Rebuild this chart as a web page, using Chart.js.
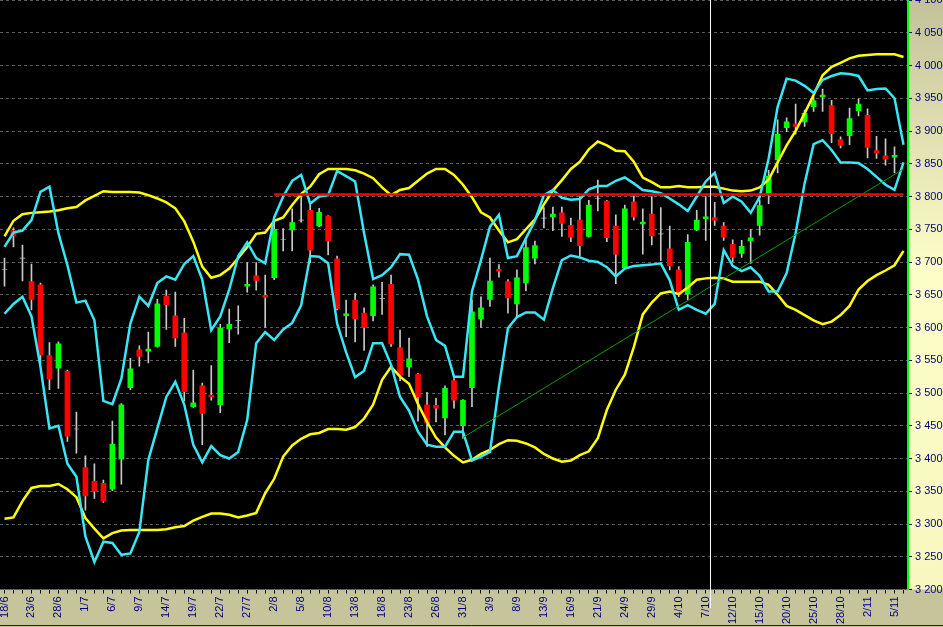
<!DOCTYPE html>
<html><head><meta charset="utf-8">
<script src="https://cdn.jsdelivr.net/npm/chart.js@4.4.1/dist/chart.umd.min.js"></script>
<style>html,body{margin:0;padding:0;background:#000;overflow:hidden}canvas{display:block}</style>
</head><body>
<canvas id="c" width="943" height="627"></canvas>
<script>
// Date labels shown under every third bar (bar 0, 3, 6, ...)
const dateLabels = ['18/6','23/6','28/6','1/7','6/7','9/7','14/7','19/7','22/7','27/7','2/8','5/8','10/8','13/8','18/8','23/8','26/8','31/8','3/9','8/9','13/9','16/9','21/9','24/9','29/9','4/10','7/10','12/10','15/10','20/10','25/10','28/10','2/11','5/11'];
const barCount = 101; // 100 candles + one band-only slot

const open = [3689,3748,3706,3670,3665,3557,3538,3533,3445,3386,
3365,3362,3353,3399,3508,3566,3564,3571,3648,3618,
3592,3479,3511,3497,3482,3598,3611,3663,3679,3649,
3676,3734,3749,3764,3779,3755,3770,3705,3618,3642,
3622,3618,3644,3666,3569,3540,3529,3482,3481,3462,
3519,3450,3508,3613,3643,3689,3670,3636,3668,3706,
3767,3769,3775,3756,3764,3739,3797,3793,3755,3691,
3792,3758,3773,3743,3720,3688,3651,3749,3766,3768,
3755,3727,3713,3732,3756,3804,3856,3905,3911,3914,
3937,3952,3939,3887,3893,3931,3924,3870,3862,3860];
const high = [3706,3752,3726,3697,3668,3577,3578,3535,3471,3404,
3392,3367,3457,3484,3553,3572,3593,3643,3657,3654,
3614,3535,3515,3542,3605,3628,3633,3699,3699,3680,
3765,3751,3781,3801,3787,3782,3771,3709,3642,3652,
3630,3665,3669,3680,3596,3584,3530,3501,3492,3511,
3522,3490,3642,3647,3706,3696,3673,3688,3734,3732,
3783,3784,3784,3767,3800,3794,3825,3794,3772,3787,
3801,3781,3800,3783,3755,3693,3742,3779,3800,3791,
3760,3734,3733,3750,3795,3840,3917,3920,3941,3932,
3952,3964,3947,3891,3935,3949,3934,3892,3888,3876];
const low = [3663,3723,3671,3627,3545,3505,3507,3426,3408,3321,
3339,3333,3351,3361,3505,3541,3546,3570,3597,3571,
3488,3478,3421,3489,3470,3577,3590,3654,3657,3600,
3673,3717,3717,3761,3699,3754,3711,3627,3586,3578,
3565,3610,3620,3571,3519,3525,3457,3418,3456,3436,
3477,3431,3479,3600,3632,3677,3622,3618,3656,3697,
3752,3748,3739,3731,3709,3738,3778,3731,3667,3690,
3764,3712,3726,3702,3688,3647,3642,3748,3733,3756,
3733,3700,3707,3698,3741,3789,3836,3899,3895,3907,
3930,3930,3882,3874,3879,3923,3859,3858,3848,3836];
const close = [3689,3740,3706,3643,3558,3521,3575,3434,3445,3343,
3350,3335,3422,3482,3537,3556,3567,3636,3635,3584,
3502,3485,3469,3494,3599,3605,3611,3666,3672,3646,
3750,3734,3760,3764,3718,3776,3732,3629,3621,3613,
3600,3662,3644,3575,3527,3552,3494,3454,3477,3507,
3489,3489,3624,3630,3671,3686,3645,3676,3722,3725,
3767,3773,3759,3738,3725,3787,3797,3737,3712,3781,
3769,3761,3740,3743,3694,3651,3730,3764,3769,3764,
3738,3707,3724,3737,3786,3831,3895,3914,3907,3927,
3946,3955,3896,3878,3919,3941,3875,3866,3857,3863];

// Short Bollinger band (cyan)
const cyanUpper = [3723,3745,3748,3764,3807,3815,3744,3695,3638,3641,
3611,3488,3483,3522,3606,3647,3633,3668,3678,3673,
3697,3709,3673,3596,3617,3658,3709,3730,3706,3698,
3768,3800,3824,3833,3789,3800,3802,3839,3831,3823,
3744,3674,3680,3692,3712,3711,3673,3617,3581,3572,
3525,3525,3655,3703,3754,3772,3706,3709,3736,3763,
3802,3810,3798,3795,3796,3811,3816,3816,3824,3829,
3820,3810,3808,3805,3797,3788,3778,3800,3823,3836,
3790,3800,3792,3775,3799,3858,3937,3980,3977,3969,
3958,3978,3984,3988,3987,3984,3962,3964,3965,3950,3879];
const cyanLower = [3621,3636,3647,3617,3540,3446,3450,3392,3372,3281,
3242,3273,3271,3253,3255,3288,3398,3446,3494,3517,
3482,3421,3394,3419,3405,3400,3410,3459,3576,3593,
3581,3597,3607,3634,3709,3708,3698,3606,3562,3524,
3534,3576,3576,3543,3494,3473,3441,3421,3418,3418,
3441,3441,3397,3403,3410,3510,3599,3616,3623,3623,
3612,3660,3703,3710,3707,3702,3700,3692,3678,3690,
3694,3695,3696,3698,3672,3627,3634,3627,3621,3636,
3718,3694,3686,3692,3679,3655,3655,3683,3744,3820,
3880,3886,3871,3852,3852,3851,3842,3830,3818,3810,3852];
// Long Bollinger band (yellow)
const yellowUpper = [3739,3763,3773,3775,3776,3777,3779,3782,3784,3794,
3801,3808,3807,3807,3807,3806,3802,3797,3791,3782,
3762,3731,3693,3676,3680,3690,3706,3723,3743,3745,
3763,3768,3787,3804,3815,3834,3842,3842,3842,3840,
3835,3828,3814,3802,3810,3813,3824,3835,3842,3842,
3833,3818,3799,3776,3768,3748,3730,3735,3750,3765,
3788,3809,3825,3842,3853,3872,3884,3878,3870,3869,
3853,3829,3822,3814,3814,3816,3814,3814,3815,3815,
3812,3809,3808,3809,3814,3826,3852,3878,3900,3927,
3955,3985,3998,4004,4011,4015,4016,4017,4017,4017,4013];
const yellowLower = [3308,3310,3335,3355,3358,3358,3361,3353,3341,3309,
3293,3278,3286,3290,3291,3291,3291,3291,3292,3295,
3297,3305,3311,3316,3316,3314,3310,3313,3317,3347,
3369,3403,3420,3430,3437,3439,3445,3445,3444,3448,
3461,3482,3520,3540,3525,3514,3483,3456,3432,3417,
3404,3394,3398,3407,3413,3422,3428,3427,3423,3417,
3407,3400,3395,3397,3405,3411,3431,3474,3505,3528,
3570,3620,3638,3652,3655,3651,3661,3673,3675,3676,
3675,3670,3670,3670,3670,3665,3650,3633,3627,3619,
3611,3605,3609,3619,3633,3658,3671,3680,3687,3695,3717];

// Horizontal resistance and rising trend line
const resistanceLevel = 3803, resistanceFrom = 30;
const trendFrom = {bar: 51, value: 3432}, trendTo = {bar: 100, value: 3842};
const cursorAfterBar = 78;
const yMin = 3200, yMax = 4100, yStep = 50;

// ---- build library inputs ----
const categories = Array.from({length: barCount}, (_, i) => String(i));
const wicks = categories.map((_, i) => i < open.length ? [low[i], high[i]] : null);
const bodies = categories.map((_, i) => i < open.length ? [open[i], close[i]] : null);
const bodyColors = open.map((o, i) => close[i] > o ? '#00ff00' : (close[i] < o ? '#ff0000' : '#c0c0c0'));
const resistance = categories.map((_, i) => i >= resistanceFrom ? resistanceLevel : null);
const trend = categories.map((_, i) => i === trendFrom.bar ? trendFrom.value : (i === trendTo.bar ? trendTo.value : null));

const fmt = v => String(v).replace(/\B(?=(\d{3})+(?!\d))/g, ' ');
const FONT = {family: '"Liberation Sans", Arial, sans-serif', size: 11};

const decor = {
  id: 'decor',
  beforeDraw(chart) {
    const {ctx, chartArea: a, width, height} = chart;
    ctx.save();
    ctx.fillStyle = '#c5c49b';
    ctx.fillRect(0, 0, width, height);
    const g = ctx.createLinearGradient(0, 0, 0, a.bottom);
    g.addColorStop(0, '#c3c199');
    g.addColorStop(0.45, '#fdfdc8');
    g.addColorStop(1, '#f8f7bf');
    ctx.fillStyle = g;
    ctx.fillRect(a.right, 0, width - a.right, a.bottom);
    ctx.fillStyle = '#000';
    ctx.fillRect(a.left, a.top, a.right - a.left, a.bottom - a.top);
    ctx.restore();
  },
  afterDraw(chart) {
    const {ctx, scales: {x}, height, width} = chart;
    const px = Math.round((x.getPixelForValue(cursorAfterBar) + x.getPixelForValue(cursorAfterBar + 1)) / 2) + 0.5;
    ctx.save();
    ctx.strokeStyle = '#ffffff';
    ctx.lineWidth = 1;
    ctx.beginPath(); ctx.moveTo(px, 0); ctx.lineTo(px, 608); ctx.stroke();
    ctx.strokeStyle = '#222';
    ctx.beginPath(); ctx.moveTo(0, height - 1.5); ctx.lineTo(width, height - 1.5); ctx.stroke();
    ctx.restore();
  }
};

const lineDs = (label, data, color, width, order) => ({
  type: 'line', label, data, borderColor: color, borderWidth: width,
  pointRadius: 0, tension: 0, fill: false, spanGaps: true, order
});

new Chart(document.getElementById('c'), {
  type: 'bar',
  data: {
    labels: categories,
    datasets: [
      lineDs('Resistance', resistance, '#ff0000', 2.5, 0),
      lineDs('Trend', trend, '#00a000', 1, 1),
      lineDs('BB short upper', cyanUpper, '#38e6f4', 2.5, 2),
      lineDs('BB short lower', cyanLower, '#38e6f4', 2.5, 3),
      lineDs('BB long upper', yellowUpper, '#ffff00', 2.5, 4),
      lineDs('BB long lower', yellowLower, '#ffff00', 2.5, 5),
      {type: 'bar', label: 'Body', data: bodies, backgroundColor: bodyColors, barThickness: 5, grouped: false, order: 6, borderWidth: 0},
      {type: 'bar', label: 'Wick', data: wicks, backgroundColor: '#c8c8c8', barThickness: 1, grouped: false, order: 7, borderWidth: 0}
    ]
  },
  options: {
    responsive: false, animation: false, devicePixelRatio: 1,
    layout: {padding: 0, autoPadding: false},
    plugins: {legend: {display: false}, tooltip: {enabled: false}, title: {display: false}},
    scales: {
      x: {
        type: 'category', offset: true,
        grid: {display: true, drawOnChartArea: false, drawTicks: true, tickLength: 4, tickColor: '#000', offset: false},
        border: {display: false},
        ticks: {
          autoSkip: false, minRotation: 90, maxRotation: 90, padding: 3,
          color: '#000080', font: FONT,
          callback: (v, i) => (i % 3 === 0 && dateLabels[i / 3]) ? dateLabels[i / 3] : ''
        },
        afterFit: s => { s.height = 37.5; s.paddingLeft = 0; s.paddingRight = 0; }
      },
      y: {
        position: 'right', min: yMin, max: yMax,
        grid: {color: '#5c5c5c', lineWidth: 1, drawTicks: true, tickLength: 4, tickColor: '#000080'},
        border: {display: true, color: '#00ff00', width: 2, dash: [3, 3]},
        ticks: {stepSize: yStep, color: '#000080', font: FONT, padding: 3, callback: v => fmt(v)},
        afterFit: s => { s.width = 35; s.paddingTop = 0; s.paddingBottom = 0; }
      }
    }
  },
  plugins: [decor]
});
</script>
</body></html>
